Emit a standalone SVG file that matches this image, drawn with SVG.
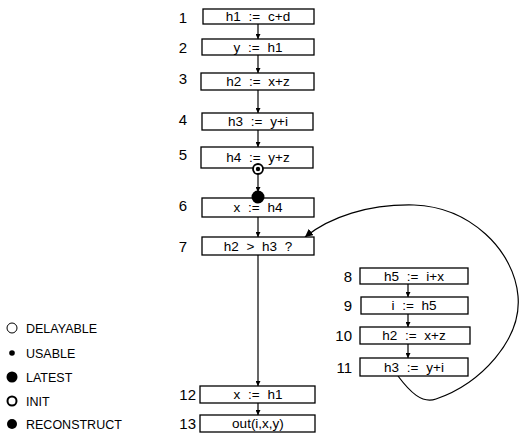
<svg xmlns="http://www.w3.org/2000/svg" width="524" height="441" viewBox="0 0 524 441">
<style>
.box{fill:#fff;stroke:#000;stroke-width:1.3}
.t{font-family:"Liberation Sans",Arial,sans-serif;font-size:13.5px;word-spacing:4px;fill:#000;text-anchor:middle}
.n{font-family:"Liberation Sans",Arial,sans-serif;font-size:15px;fill:#000;text-anchor:end}
.l{font-family:"Liberation Sans",Arial,sans-serif;font-size:12.5px;fill:#000}
.e{fill:none;stroke:#000;stroke-width:1.2}
</style>
<defs>
<marker id="ah" viewBox="0 0 10 10" refX="10" refY="5" markerWidth="5" markerHeight="5" orient="auto" markerUnits="userSpaceOnUse">
<path d="M0,0 L10,5 L0,10 z" fill="#000"/>
</marker>
<marker id="ah2" viewBox="0 0 10 10" refX="10" refY="5" markerWidth="8" markerHeight="8" orient="auto" markerUnits="userSpaceOnUse">
<path d="M0,0 L10,5 L0,10 z" fill="#000"/>
</marker>
</defs>
<rect width="524" height="441" fill="#fff"/>
<g id="connectors">
<line class="e" x1="258" y1="24" x2="258" y2="39" marker-end="url(#ah)"/>
<line class="e" x1="258" y1="55" x2="258" y2="73" marker-end="url(#ah)"/>
<line class="e" x1="258" y1="90" x2="258" y2="113" marker-end="url(#ah)"/>
<line class="e" x1="258" y1="130" x2="258" y2="147" marker-end="url(#ah)"/>
<line class="e" x1="258" y1="174" x2="258" y2="192" marker-end="url(#ah)"/>
<line class="e" x1="258" y1="217" x2="258" y2="237" marker-end="url(#ah)"/>
<line class="e" x1="258" y1="255" x2="258" y2="386" marker-end="url(#ah)"/>
<line class="e" x1="258" y1="403" x2="258" y2="415" marker-end="url(#ah)"/>
<line class="e" x1="408" y1="284" x2="408" y2="297" marker-end="url(#ah)"/>
<line class="e" x1="408" y1="314" x2="408" y2="327" marker-end="url(#ah)"/>
<line class="e" x1="408" y1="344" x2="408" y2="358" marker-end="url(#ah)"/>
<path class="e" d="M398 376 C410 392 422 404 436 399 C480 384 522 340 518 296 C514 250 470 207 414 205 C368 204 330 217 305 237" marker-end="url(#ah2)"/>
</g>
<g id="n1"><rect class="box" x="203" y="9" width="111" height="15"/><text class="t" x="258" y="21">h1 := c+d</text><text class="n" x="187" y="23">1</text></g>
<g id="n2"><rect class="box" x="202" y="39" width="112" height="16"/><text class="t" x="258" y="52">y := h1</text><text class="n" x="187" y="53">2</text></g>
<g id="n3"><rect class="box" x="201" y="73" width="113" height="17"/><text class="t" x="258" y="86">h2 := x+z</text><text class="n" x="187" y="84">3</text></g>
<g id="n4"><rect class="box" x="202" y="113" width="111" height="17"/><text class="t" x="258" y="126">h3 := y+i</text><text class="n" x="187" y="125">4</text></g>
<g id="n5"><rect class="box" x="201" y="147" width="112" height="21"/><text class="t" x="258" y="162">h4 := y+z</text><text class="n" x="187" y="160">5</text>
<circle cx="258" cy="169" r="5" fill="#fff" stroke="#000" stroke-width="1.8"/><circle cx="258" cy="169" r="2.2" fill="#000"/></g>
<g id="n6"><rect class="box" x="202" y="198" width="112" height="19"/><text class="t" x="258" y="212">x := h4</text><text class="n" x="187" y="211">6</text>
<circle cx="258" cy="197" r="6.5" fill="#000"/></g>
<g id="n7"><rect class="box" x="202" y="237" width="112" height="18"/><text class="t" x="258" y="251">h2 &gt; h3 ?</text><text class="n" x="187" y="252">7</text></g>
<g id="n8"><rect class="box" x="360" y="268" width="108" height="16"/><text class="t" x="414" y="281">h5 := i+x</text><text class="n" x="352" y="282">8</text></g>
<g id="n9"><rect class="box" x="361" y="297" width="107" height="17"/><text class="t" x="414" y="310">i := h5</text><text class="n" x="352" y="311">9</text></g>
<g id="n10"><rect class="box" x="360" y="327" width="110" height="17"/><text class="t" x="414" y="340">h2 := x+z</text><text class="n" x="352" y="341">10</text></g>
<g id="n11"><rect class="box" x="360" y="358" width="108" height="18"/><text class="t" x="414" y="372">h3 := y+i</text><text class="n" x="352" y="373">11</text></g>
<g id="n12"><rect class="box" x="200" y="386" width="115" height="17"/><text class="t" x="258" y="399">x := h1</text><text class="n" x="196" y="400">12</text></g>
<g id="n13"><rect class="box" x="200" y="415" width="115" height="17"/><text class="t" x="258" y="428">out(i,x,y)</text><text class="n" x="196" y="429">13</text></g>
<g id="legend">
<circle cx="12" cy="328" r="5" fill="#fff" stroke="#000" stroke-width="1"/><text class="l" x="26" y="333">DELAYABLE</text>
<circle cx="12" cy="353" r="2.8" fill="#000"/><text class="l" x="26" y="358">USABLE</text>
<circle cx="12" cy="377" r="5.5" fill="#000"/><text class="l" x="26" y="382">LATEST</text>
<circle cx="12" cy="401" r="4.5" fill="#fff" stroke="#000" stroke-width="2"/><text class="l" x="26" y="406">INIT</text>
<circle cx="12" cy="424" r="5" fill="#000"/><text class="l" x="26" y="429">RECONSTRUCT</text>
</g>
</svg>
